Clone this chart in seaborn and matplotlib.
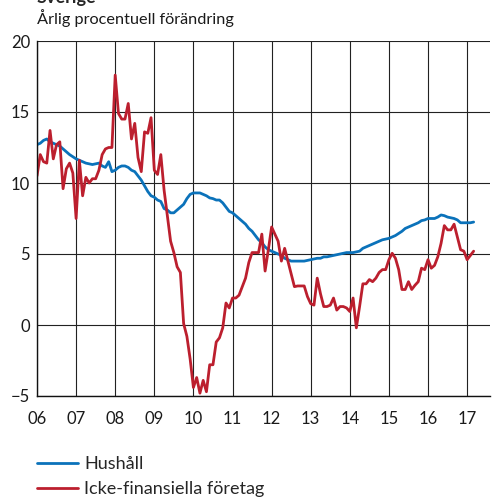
import numpy as np
import pandas as pd
import matplotlib
matplotlib.use("Agg")
import matplotlib.pyplot as plt
import seaborn as sns

# monthly data, jan 2006 - mar 2017
hushall = [
    12.7, 12.8, 13.0, 13.1, 12.9, 12.8, 12.7, 12.6, 12.4, 12.2, 12.0, 11.85,
    11.7, 11.6, 11.5, 11.4, 11.35, 11.3, 11.35, 11.4, 11.2, 11.1, 11.5, 10.8,
    10.9, 11.1, 11.2, 11.2, 11.1, 10.9, 10.8, 10.5, 10.2, 9.8, 9.4, 9.1,
    9.0, 8.8, 8.7, 8.2, 8.1, 7.9, 7.9, 8.1, 8.3, 8.5, 8.9, 9.2,
    9.3, 9.3, 9.3, 9.2, 9.1, 8.95, 8.9, 8.8, 8.8, 8.6, 8.3, 8.0,
    7.9, 7.7, 7.5, 7.3, 7.1, 6.8, 6.6, 6.3, 6.0, 5.8, 5.5, 5.3,
    5.2, 5.1, 5.0, 4.9, 4.7, 4.6, 4.5, 4.5, 4.5, 4.5, 4.5, 4.55,
    4.6, 4.65, 4.7, 4.7, 4.8, 4.8, 4.85, 4.9, 4.95, 5.0, 5.05, 5.1,
    5.1, 5.1, 5.15, 5.2, 5.4, 5.5, 5.6, 5.7, 5.8, 5.9, 6.0, 6.05,
    6.1, 6.2, 6.3, 6.45, 6.6, 6.8, 6.9, 7.0, 7.1, 7.2, 7.35, 7.4,
    7.5, 7.5, 7.5, 7.6, 7.75, 7.7, 7.6, 7.55, 7.5, 7.4, 7.2, 7.2,
    7.2, 7.2, 7.25,
]
foretag = [
    10.5, 12.0, 11.5, 11.4, 13.7, 11.7, 12.7, 12.9, 9.6, 11.0, 11.4, 10.7,
    7.5, 11.6, 9.1, 10.4, 10.0, 10.3, 10.3, 10.9, 12.0, 12.4, 12.5, 12.5,
    17.6, 14.9, 14.5, 14.5, 15.6, 13.1, 14.2, 11.8, 10.8, 13.6, 13.5, 14.6,
    10.9, 10.6, 12.0, 9.5, 7.7, 5.9, 5.1, 4.1, 3.7, 0.1, -0.8, -2.4,
    -4.4, -3.7, -4.8, -3.9, -4.7, -2.8, -2.8, -1.2, -0.9, -0.2, 1.55, 1.2,
    1.9, 1.9, 2.1, 2.7, 3.3, 4.4, 5.1, 5.1, 5.1, 6.4, 3.8, 5.3,
    6.9, 6.4, 5.9, 4.5, 5.4, 4.5, 3.6, 2.7, 2.75, 2.75, 2.75, 2.0,
    1.5, 1.4, 3.3, 2.2, 1.3, 1.3, 1.4, 1.9, 1.05, 1.3, 1.3, 1.2,
    0.95, 1.9, -0.2, 1.3, 2.9, 2.9, 3.2, 3.05, 3.3, 3.7, 3.9, 3.9,
    4.6, 5.05, 4.7, 3.9, 2.5, 2.5, 3.05, 2.5, 2.8, 3.05, 4.0, 3.9,
    4.6, 4.0, 4.2, 4.8, 5.75, 7.0, 6.7, 6.7, 7.1, 6.2, 5.3, 5.2,
    4.6, 4.9, 5.2,
]
serier = ["Hushåll", "Icke-finansiella företag"]
farger = ["#0B72BA", "#BC1F2E"]
ar_labels = ["06", "07", "08", "09", "10", "11", "12", "13", "14", "15", "16", "17"]

tid = pd.date_range("2006-01-01", periods=len(hushall), freq="MS")
ar = tid.year + (tid.month - 1) / 12

df = pd.DataFrame({"ar": np.concatenate([ar, ar]),
                   "varde": hushall + foretag,
                   "serie": [serier[0]] * len(hushall) + [serier[1]] * len(foretag)})

sns.set_theme(style="white")
plt.rcParams["font.family"] = ["Lato", "DejaVu Sans"]

fig = plt.figure(figsize=(4.95, 4.97), dpi=100)
ax = fig.add_axes([37 / 495, 1 - 396 / 497, 453 / 495, 355 / 497])

sns.lineplot(data=df, x="ar", y="varde", hue="serie", hue_order=serier,
             palette=farger, linewidth=2.0, ax=ax, legend=False)

ax.set_xlim(2006, 2017.585)
ax.set_ylim(-5, 20)
ax.set_xticks(range(2006, 2018))
ax.set_xticklabels(ar_labels)
ax.set_yticks([-5, 0, 5, 10, 15, 20])
ax.grid(True, color="#222222", linewidth=0.8)
ax.set_axisbelow(True)
ax.tick_params(axis="both", length=0, labelsize=12, colors="#1a1a1a")
ax.tick_params(axis="x", pad=11)
ax.tick_params(axis="y", pad=5)
ax.set_xlabel("")
ax.set_ylabel("")
for s in ["top", "right"]:
    ax.spines[s].set_visible(False)
for s in ["left", "bottom"]:
    ax.spines[s].set_color("#111111")
    ax.spines[s].set_linewidth(1.0)

fig.text(37 / 495, 0.994, "Sverige", fontsize=13, fontweight="bold", va="baseline")
fig.text(37 / 495, 1 - 18 / 497, "Årlig procentuell förändring", fontsize=11.7,
         va="center", color="#1a1a1a")

handles = [plt.Line2D([], [], color=c, linewidth=2.0) for c in farger]
fig.legend(handles, serier, loc="upper left", bbox_to_anchor=(37 / 495, 1 - 456 / 497),
           frameon=False, fontsize=13, handlelength=2.25, handletextpad=0.35,
           labelspacing=0.5, borderpad=0, borderaxespad=0)

fig.savefig("out.png", dpi=100)
